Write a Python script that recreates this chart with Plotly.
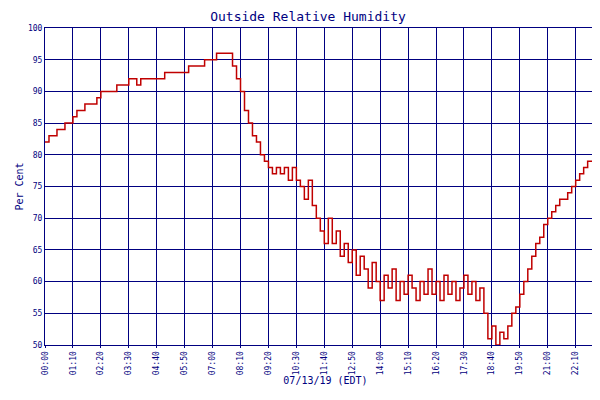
import numpy as np
import plotly.graph_objects as go

# relative humidity every 10 minutes from 00:00 (minutes since midnight)
minutes = np.arange(0, 1410, 10)
humidity = [82, 83, 83, 84, 84, 85, 85, 86, 87, 87, 88, 88, 88, 89, 90, 90, 90, 90, 91, 91,
            91, 92, 92, 91, 92, 92, 92, 92, 92, 92, 93, 93, 93, 93, 93, 93, 94, 94, 94, 94,
            95, 95, 95, 96, 96, 96, 96, 94, 92, 90, 87, 85, 83, 82, 80, 79, 78, 77, 78, 77,
            78, 76, 78, 76, 75, 73, 76, 72, 70, 68, 66, 70, 66, 68, 64, 66, 63, 65, 61, 64,
            62, 59, 63, 60, 57, 61, 59, 62, 57, 60, 58, 61, 59, 57, 60, 58, 62, 58, 60, 57,
            61, 58, 60, 57, 59, 61, 58, 60, 57, 59, 55, 51, 53, 50, 52, 51, 53, 55, 56, 58,
            60, 62, 64, 66, 67, 69, 70, 71, 72, 73, 73, 74, 75, 76, 77, 78, 79, 79, 80, 81, 82]

tick_vals = list(range(0, 1401, 70))
tick_text = [f"{v // 60:02d}:{v % 60:02d}" for v in tick_vals]

navy = "#000080"
font = dict(family="DejaVu Sans Mono", size=8, color=navy)

fig = go.Figure()
fig.add_trace(go.Scatter(x=minutes, y=humidity, mode="lines", line_shape="hv",
                         line=dict(color="#c00000", width=1.5), name="Relative Humidity"))

fig.update_layout(
    width=600, height=400, margin=dict(l=37, r=2, t=20, b=63, autoexpand=False),
    paper_bgcolor="white", plot_bgcolor="white", font=font,
    title=dict(text="Outside Relative Humidity", x=0.5, y=0.99, yanchor="top",
               font=dict(family="DejaVu Sans Mono", size=13, color=navy)),
    showlegend=True,
    legend=dict(orientation="h", x=0.5, xanchor="center", y=-0.165, yanchor="top",
                font=dict(family="DejaVu Sans Mono", size=8, color=navy)),
)
fig.update_xaxes(range=[0, 1406], tickvals=tick_vals, ticktext=tick_text, tickangle=-90,
                 showgrid=True, gridcolor=navy, gridwidth=1, showline=True, linecolor=navy,
                 mirror=True, zeroline=False, ticks="outside", tickcolor=navy, ticklen=2,
                 automargin=False,
                 title=dict(text="07/13/19 (EDT)", font=dict(family="DejaVu Sans Mono", size=10, color=navy),
                            standoff=2))
fig.update_yaxes(range=[50, 100], dtick=5, showgrid=True, gridcolor=navy, gridwidth=1,
                 showline=True, linecolor=navy, mirror=True, zeroline=False, automargin=False,
                 title=dict(text="Per Cent", font=dict(family="DejaVu Sans Mono", size=10, color=navy),
                            standoff=2))

fig.write_html("out.html")
